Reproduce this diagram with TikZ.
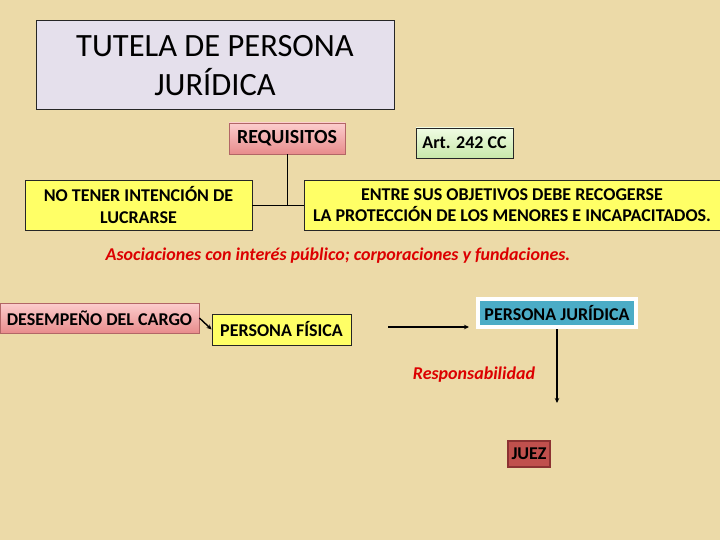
\documentclass[tikz,border=0pt]{standalone}
\usepackage{fontspec}
\setmainfont{Carlito}
\usetikzlibrary{arrows.meta}
\definecolor{bg}{RGB}{236,218,168}
\definecolor{lav}{RGB}{229,224,236}
\definecolor{yel}{RGB}{255,255,102}
\definecolor{pjblue}{RGB}{75,172,198}
\definecolor{juezred}{RGB}{192,80,77}
\definecolor{juezbd}{RGB}{140,50,50}
\definecolor{redtxt}{RGB}{220,0,0}
\tikzset{
  box/.style={draw=black!85, line width=0.8pt, inner sep=0pt, align=center},
  yelbox/.style={box, fill=yel},
  pinkbox/.style={box, draw=red!50!black!60, top color={rgb,255:red,252;green,205;blue,205}, bottom color={rgb,255:red,232;green,140;blue,140}},
  greenbox/.style={box, top color={rgb,255:red,240;green,252;blue,228}, bottom color={rgb,255:red,200;green,232;blue,170}},
  conn/.style={draw=black, line width=0.9pt},
  arr/.style={draw=black, line width=1.4pt, -{Stealth[length=5pt,width=4.5pt]}},
  redlabel/.style={text=redtxt, inner sep=0pt},
  f18/.style={font=\bfseries\fontsize{18}{21.5}\selectfont},
  f18i/.style={font=\bfseries\itshape\fontsize{18}{21.5}\selectfont}
}
\begin{document}
\begin{tikzpicture}[x=1pt,y=-1pt]
\fill[bg] (0,0) rectangle (720,540);
\useasboundingbox (0,0) rectangle (720,540);

\node[box, fill=lav, minimum width=358pt, minimum height=89pt, font=\fontsize{32.5}{39}\selectfont, line width=1pt] (title) at (215,65.5) {TUTELA DE PERSONA\\JURÍDICA};

\node[pinkbox, minimum width=116pt, minimum height=31pt, font=\bfseries\fontsize{20}{24}\selectfont] (req) at (287,138.5) {REQUISITOS};

\node[greenbox, minimum width=97pt, minimum height=30pt, f18] (art) at (464.5,143) {Art. 242 CC};

\node[yelbox, minimum width=227pt, minimum height=50pt, f18] (nt) at (138.5,205) {NO TENER INTENCIÓN DE\\LUCRARSE};

\node[yelbox, minimum width=416pt, minimum height=50pt, f18] (en) at (512,205) {ENTRE SUS OBJETIVOS DEBE RECOGERSE\\LA PROTECCIÓN DE LOS MENORES E INCAPACITADOS.};

\draw[conn] (nt.east) -- (en.west);
\draw[conn] (req.south) -- (req.south |- nt.east);

\node[redlabel, f18i] (asoc) at (338,256) {Asociaciones con interés público; corporaciones y fundaciones.};

\node[pinkbox, minimum width=199pt, minimum height=30pt, f18] (des) at (99.5,318) {DESEMPEÑO DEL CARGO};

\node[yelbox, minimum width=139pt, minimum height=31pt, f18] (pf) at (281.5,329.5) {PERSONA FÍSICA};

\node[box, draw=white, line width=4pt, fill=pjblue, minimum width=158pt, minimum height=28pt, f18] (pj) at (557,313) {PERSONA JURÍDICA};

\node[box, draw=juezbd, line width=2pt, fill=juezred, minimum width=42pt, minimum height=26pt, f18] (juez) at (529,454) {JUEZ};

\node[redlabel, f18i] (resp) at (474,375) {Responsabilidad};

\draw[arr] (des.east) -- (pf.west);
\coordinate (a1) at (388,327);
\coordinate (a2) at (469,327);
\draw[arr] (a1) -- (a2);
\coordinate (a3) at (557,403);
\draw[arr] (pj.south) -- (a3);
\end{tikzpicture}
\end{document}
